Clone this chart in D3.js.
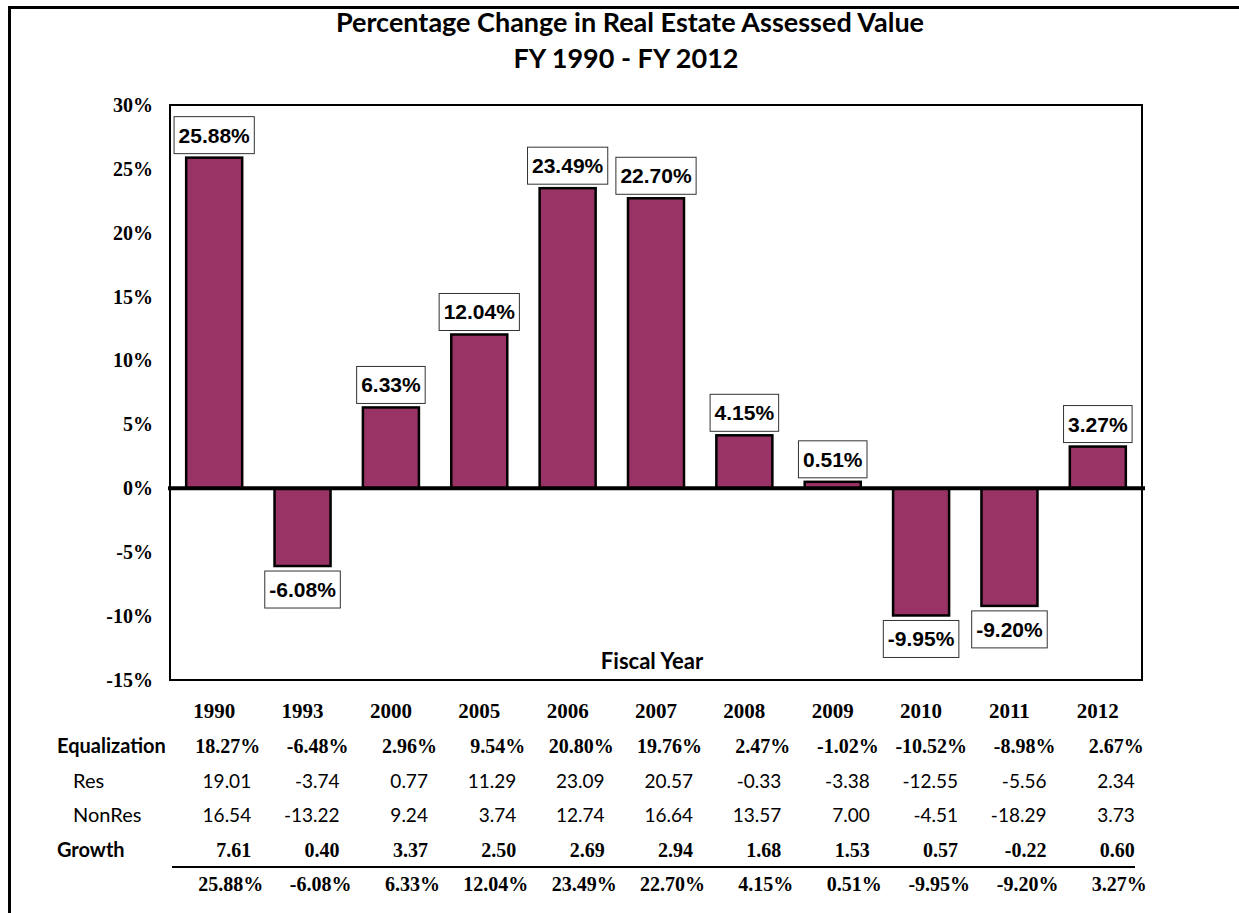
<!DOCTYPE html>
<html lang="en">
<head>
	<meta charset="utf-8">
	<title>Percentage Change in Real Estate Assessed Value</title>
	<script src="https://d3js.org/d3.v7.min.js"></script>
	<style>
		body { margin: 0; background: #fff; overflow: hidden; }
		svg { display: block; }
	</style>
</head>
<body>
	<script>
  // Chart data
  var years = [ "1990", "1993", "2000", "2005", "2006", "2007", "2008", "2009", "2010", "2011", "2012" ];
  var totalChange = [ 25.88, -6.08, 6.33, 12.04, 23.49, 22.70, 4.15, 0.51, -9.95, -9.20, 3.27 ];
  var equalization = [ 18.27, -6.48, 2.96, 9.54, 20.80, 19.76, 2.47, -1.02, -10.52, -8.98, 2.67 ];
  var res = [ 19.01, -3.74, 0.77, 11.29, 23.09, 20.57, -0.33, -3.38, -12.55, -5.56, 2.34 ];
  var nonRes = [ 16.54, -13.22, 9.24, 3.74, 12.74, 16.64, 13.57, 7.00, -4.51, -18.29, 3.73 ];
  var growth = [ 7.61, 0.40, 3.37, 2.50, 2.69, 2.94, 1.68, 1.53, 0.57, -0.22, 0.60 ];
  var yTicks = [ -15, -10, -5, 0, 5, 10, 15, 20, 25, 30 ];

  var width = 1239;
  var height = 913;
  var serif = "'Liberation Serif', 'Times New Roman', serif";
  var humanist = "Lato, 'Open Sans', sans-serif";
  var arial = "'Liberation Sans', Arial, sans-serif";

  var svg = d3.select( "body" )
      .append( "svg" )
      .attr( "width", width )
      .attr( "height", height );

  // outer frame (runs off the right and bottom of the picture)
  svg.append( "rect" )
    .attr( "x", 9.5 ).attr( "y", 7.5 )
    .attr( "width", 1300 ).attr( "height", 1000 )
    .attr( "fill", "none" )
    .attr( "stroke", "#000" )
    .attr( "stroke-width", 3 );

  // plot area
  var plot = { left: 170, top: 105, right: 1142, bottom: 680 };

  var x = d3.scaleBand()
    .domain( years )
    .range( [plot.left, plot.right] )
    .paddingInner( 0.366 )
    .paddingOuter( 0.183 );

  var y = d3.scaleLinear()
    .domain( [-15, 30] )
    .range( [plot.bottom, plot.top] );

  svg.append( "rect" )
    .attr( "x", plot.left ).attr( "y", plot.top )
    .attr( "width", plot.right - plot.left )
    .attr( "height", plot.bottom - plot.top )
    .attr( "fill", "#fff" )
    .attr( "stroke", "#000" )
    .attr( "stroke-width", 2 );

  // title
  var title = svg.append( "g" )
    .attr( "font-family", humanist )
    .attr( "font-weight", "bold" )
    .attr( "font-size", 27 )
    .attr( "text-anchor", "middle" );
  title.append( "text" ).attr( "x", 630 ).attr( "y", 32 )
    .text( "Percentage Change in Real Estate Assessed Value" );
  title.append( "text" ).attr( "x", 626 ).attr( "y", 68 )
    .text( "FY 1990 - FY 2012" );

  // y axis labels
  var yAxis = d3.axisLeft( y )
    .tickValues( yTicks )
    .tickSize( 0 )
    .tickPadding( 17 )
    .tickFormat( function( d ) { return d + "%"; } );
  var ya = svg.append( "g" )
    .attr( "transform", "translate(" + plot.left + ",0)" )
    .call( yAxis );
  ya.select( ".domain" ).remove();
  ya.selectAll( "text" )
    .attr( "font-family", serif )
    .attr( "font-weight", "bold" )
    .attr( "font-size", 20 )
    .attr( "fill", "#000" );

  // bars
  var data = years.map( function( yr, i ) { return { year: yr, value: totalChange[i] }; } );
  svg.append( "g" )
    .selectAll( "rect" )
    .data( data )
    .enter()
    .append( "rect" )
    .attr( "x", function( d ) { return x( d.year ); } )
    .attr( "y", function( d ) { return y( Math.max( 0, d.value ) ); } )
    .attr( "width", x.bandwidth() )
    .attr( "height", function( d ) { return Math.abs( y( d.value ) - y( 0 ) ); } )
    .attr( "fill", "#993366" )
    .attr( "stroke", "#000" )
    .attr( "stroke-width", 2.5 );

  // zero line
  svg.append( "line" )
    .attr( "x1", plot.left - 2 ).attr( "x2", plot.right + 3 )
    .attr( "y1", y( 0 ) ).attr( "y2", y( 0 ) )
    .attr( "stroke", "#000" )
    .attr( "stroke-width", 4 );

  // boxed value labels
  var boxH = 37;
  var labels = svg.append( "g" )
    .selectAll( "g" )
    .data( data )
    .enter()
    .append( "g" );
  labels.each( function( d ) {
    var g = d3.select( this );
    var cx = x( d.year ) + x.bandwidth() / 2;
    var top = d.value >= 0 ? y( d.value ) - 4 - boxH : y( d.value ) + 5;
    var rect = g.append( "rect" );
    var t = g.append( "text" )
      .attr( "x", cx )
      .attr( "y", top + boxH / 2 + 7.5 )
      .attr( "text-anchor", "middle" )
      .attr( "font-family", arial )
      .attr( "font-weight", "bold" )
      .attr( "font-size", 21 )
      .text( d.value.toFixed( 2 ) + "%" );
    var w = t.node().getComputedTextLength() + 9;
    rect.attr( "x", cx - w / 2 ).attr( "y", top )
      .attr( "width", w ).attr( "height", boxH )
      .attr( "fill", "#fff" )
      .attr( "stroke", "#333" )
      .attr( "stroke-width", 1 );
  } );

  // x axis title
  svg.append( "text" )
    .attr( "x", 652 ).attr( "y", 669 )
    .attr( "text-anchor", "middle" )
    .attr( "font-family", humanist )
    .attr( "font-weight", "bold" )
    .attr( "font-size", 22 )
    .text( "Fiscal Year" );

  // table under the chart
  var table = svg.append( "g" );
  table.selectAll( "text.year" )
    .data( years )
    .enter()
    .append( "text" )
    .attr( "class", "year" )
    .attr( "x", function( d ) { return x( d ) + x.bandwidth() / 2; } )
    .attr( "y", 718 )
    .attr( "text-anchor", "middle" )
    .attr( "font-family", serif )
    .attr( "font-weight", "bold" )
    .attr( "font-size", 21 )
    .text( function( d ) { return d; } );

  var pct = function( d ) { return d.toFixed( 2 ) + "%"; };
  var num = function( d ) { return d.toFixed( 2 ); };
  var rows = [
    { label: "Equalization", lx: 57, vals: equalization, fmt: pct, y: 753, off: 46, font: serif, bold: true, labelBold: true },
    { label: "Res", lx: 73, vals: res, fmt: num, y: 788, off: 37, font: humanist, bold: false, labelBold: false },
    { label: "NonRes", lx: 73, vals: nonRes, fmt: num, y: 822, off: 37, font: humanist, bold: false, labelBold: false },
    { label: "Growth", lx: 57, vals: growth, fmt: num, y: 857, off: 37, font: serif, bold: true, labelBold: true },
    { label: "", lx: 57, vals: totalChange, fmt: pct, y: 891, off: 49, font: serif, bold: true, labelBold: true }
  ];

  rows.forEach( function( r ) {
    table.append( "text" )
      .attr( "x", r.lx ).attr( "y", r.y )
      .attr( "font-family", humanist )
      .attr( "font-weight", r.labelBold ? "bold" : "normal" )
      .attr( "font-size", 20 )
      .text( r.label );
    table.append( "g" )
      .selectAll( "text" )
      .data( r.vals )
      .enter()
      .append( "text" )
      .attr( "x", function( d, i ) { return x( years[i] ) + x.bandwidth() / 2 + r.off; } )
      .attr( "y", r.y )
      .attr( "text-anchor", "end" )
      .attr( "font-family", r.font )
      .attr( "font-weight", r.bold ? "bold" : "normal" )
      .attr( "font-size", r.bold ? 20 : 19 )
      .text( r.fmt );
  } );

  // rule above the totals
  table.append( "line" )
    .attr( "x1", 172 ).attr( "x2", 1135 )
    .attr( "y1", 867 ).attr( "y2", 867 )
    .attr( "stroke", "#000" )
    .attr( "stroke-width", 2 );
  </script>
</body>
</html>
